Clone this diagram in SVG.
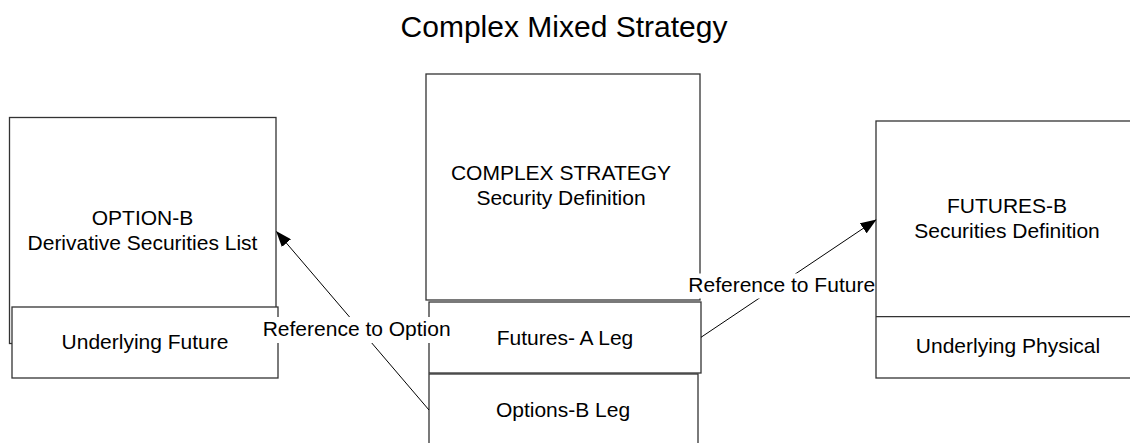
<svg xmlns="http://www.w3.org/2000/svg" width="1130" height="443" viewBox="0 0 1130 443">
<defs>
<style>
text{font-family:"Liberation Sans",Arial,sans-serif;fill:#000;}
.t{font-size:21px;text-anchor:middle;}
.title{font-size:30px;text-anchor:middle;}
.lbl{font-size:21px;}
.box{fill:#fff;stroke:#333;stroke-width:1.3;}
.conn{stroke:#000;stroke-width:1;fill:none;}
.bg{fill:#fff;stroke:none;}
</style>
<marker id="arr" markerWidth="16" markerHeight="12" refX="15" refY="6" orient="auto" markerUnits="userSpaceOnUse">
<path d="M0,0 L16,6 L0,12 Z" fill="#000"/>
</marker>
</defs>
<text class="title" x="564" y="37">Complex Mixed Strategy</text>
<g id="option-b">
<rect class="box" x="9.5" y="117.5" width="266.5" height="226"/>
<text class="t" x="142.5" y="224.5">OPTION-B</text>
<text class="t" x="142.5" y="250">Derivative Securities List</text>
</g>
<g id="underlying-future">
<rect class="box" x="12" y="307" width="266" height="71"/>
<text class="t" x="145" y="349">Underlying Future</text>
</g>
<g id="complex-strategy">
<rect class="box" x="426" y="74" width="274" height="226"/>
<text class="t" x="561" y="180">COMPLEX STRATEGY</text>
<text class="t" x="561" y="205">Security Definition</text>
</g>
<g id="futures-a-leg">
<rect class="box" x="429" y="302" width="272" height="71"/>
<text class="t" x="565" y="344.5">Futures- A Leg</text>
</g>
<g id="options-b-leg">
<rect class="box" x="429" y="374" width="269" height="80"/>
<text class="t" x="563" y="417">Options-B Leg</text>
</g>
<g id="futures-b">
<rect class="box" x="876" y="121" width="270" height="257"/>
<line class="box" x1="876" y1="316.7" x2="1146" y2="316.7"/>
<text class="t" x="1007" y="213.3">FUTURES-B</text>
<text class="t" x="1007" y="238.3">Securities Definition</text>
<text class="t" x="1008" y="353">Underlying Physical</text>
</g>
<g id="connectors">
<line class="conn" x1="429" y1="410" x2="276.7" y2="231.7" marker-end="url(#arr)"/>
<line class="conn" x1="701" y1="337.3" x2="875.7" y2="220" marker-end="url(#arr)"/>
<rect class="bg" x="261" y="317" width="193" height="26"/>
<text class="lbl" x="262.7" y="336">Reference to Option</text>
<rect class="bg" x="687" y="273.5" width="187" height="25"/>
<text class="lbl" x="688.3" y="291.5">Reference to Future</text>
</g>
</svg>
